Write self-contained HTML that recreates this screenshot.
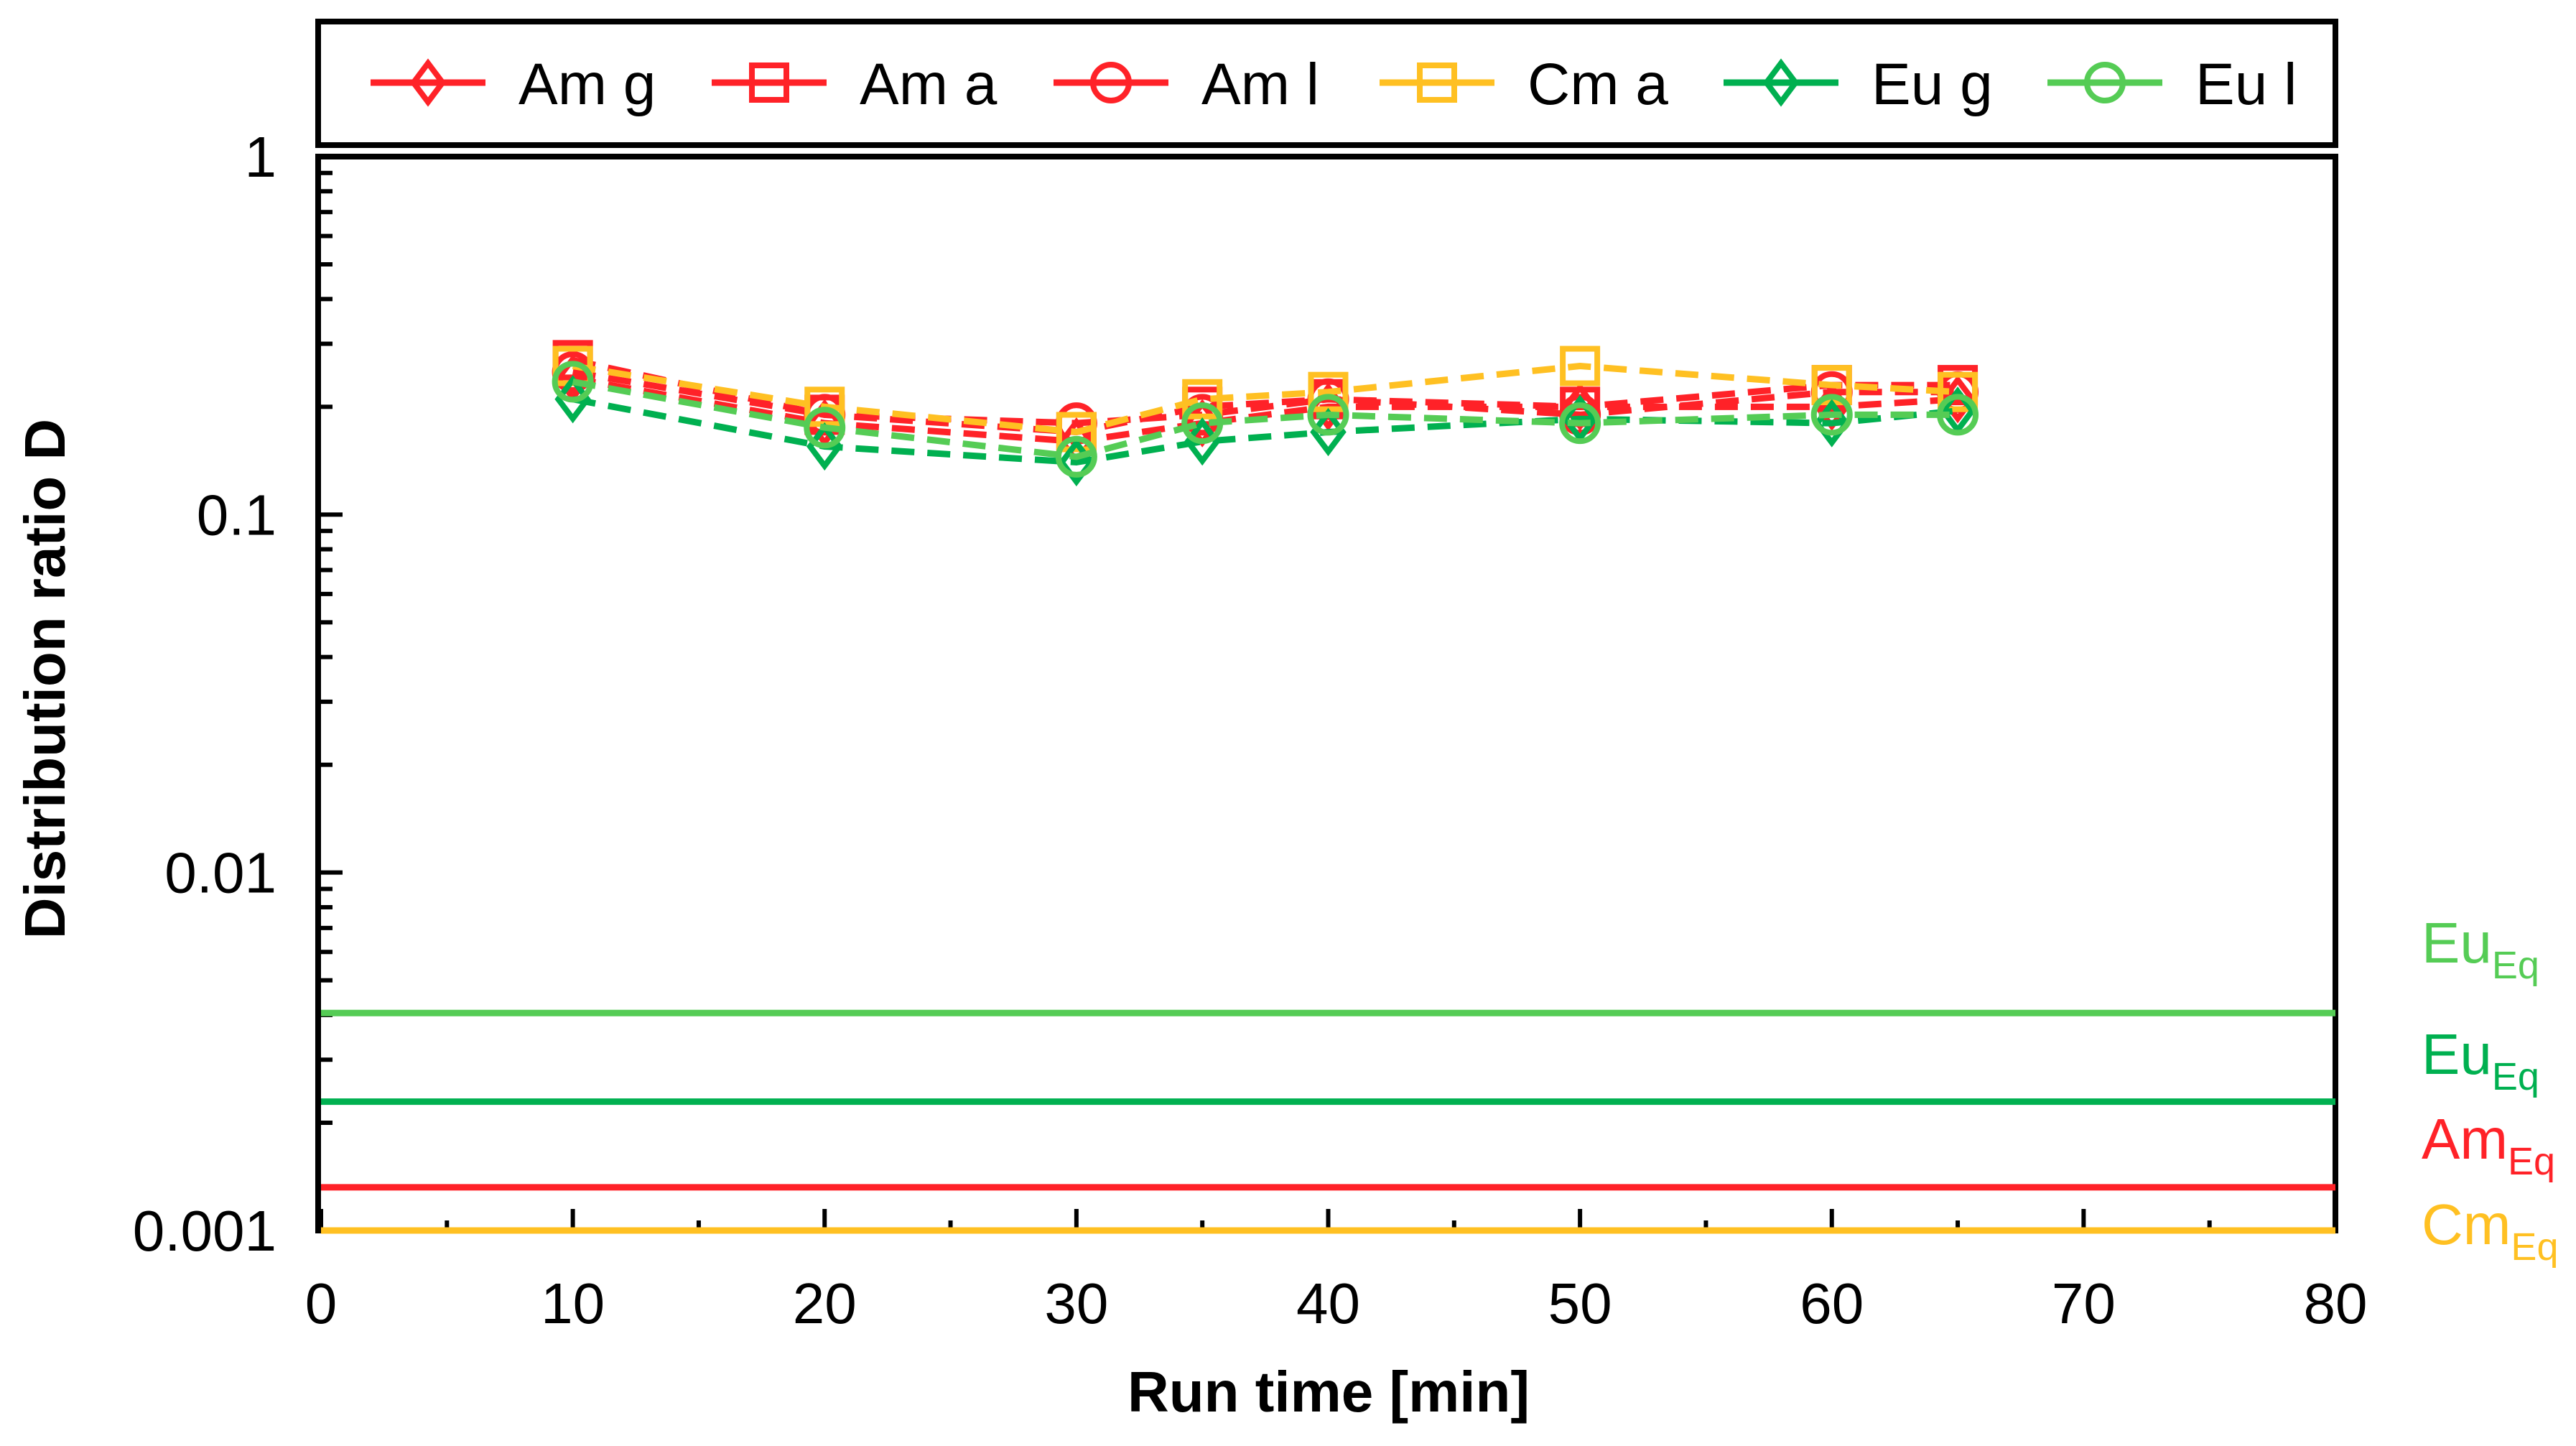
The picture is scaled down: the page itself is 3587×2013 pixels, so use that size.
<!DOCTYPE html>
<html><head><meta charset="utf-8"><style>
html,body{margin:0;padding:0;background:#fff}
svg{display:block;font-family:"Liberation Sans",Arial,sans-serif}
</style></head><body>
<svg id="chart" width="3587" height="2013" viewBox="0 0 3587 2013" xmlns="http://www.w3.org/2000/svg">
<g id="legend"></g>
<g id="plot"></g>
</svg>
<script>
const times = [10, 20, 30, 35, 40, 50, 60, 65];
const amG = [0.24, 0.18, 0.16, 0.18, 0.20, 0.20, 0.20, 0.21];
const amA = [0.27, 0.19, 0.17, 0.20, 0.21, 0.20, 0.23, 0.23];
const amL = [0.25, 0.19, 0.18, 0.19, 0.21, 0.19, 0.22, 0.22];
const cmA = [0.26, 0.20, 0.17, 0.21, 0.22, 0.26, 0.23, 0.22];
const euG = [0.21, 0.155, 0.14, 0.16, 0.17, 0.185, 0.18, 0.195];
const euL = [0.235, 0.175, 0.145, 0.18, 0.19, 0.18, 0.19, 0.19];
const eqLabels = ["Eu", "Eu", "Am", "Cm"];
const eqValues = [0.00405, 0.00229, 0.00132, 0.001];
const xTicks = [0, 10, 20, 30, 40, 50, 60, 70, 80];
const yTicks = [1, 0.1, 0.01, 0.001];
const yTickLabels = ["1", "0.1", "0.01", "0.001"];
const legendLabels = ["Am g", "Am a", "Am l", "Cm a", "Eu g", "Eu l"];

const RED = "#ff2228", YEL = "#ffc022", DKG = "#00b050", LTG = "#55cc55";
const L = 447, R = 3252, T = 218, B = 1713;
const xS = v => L + (v - 0) / 80 * (R - L);
const yS = v => B - (Math.log10(v) + 3) / 3 * (B - T);
const NS = "http://www.w3.org/2000/svg";
function mk(tag, attrs, parent) {
  const e = document.createElementNS(NS, tag);
  for (const k in attrs) e.setAttribute(k, attrs[k]);
  parent.appendChild(e);
  return e;
}
const plot = document.getElementById("plot");
const legend = document.getElementById("legend");

// frame
const fr = mk("rect", {x: L - 4, y: T, width: R - L + 4, height: B - T, fill: "none", stroke: "#000", "stroke-width": 8}, plot);



// y ticks
for (let d = -3; d < 0; d++) {
  for (let m = 2; m <= 9; m++) {
    const y = yS(m * Math.pow(10, d));
    mk("line", {x1: L, x2: L + 16, y1: y, y2: y, stroke: "#000", "stroke-width": 6}, plot);
  }
}
yTicks.forEach((v, i) => {
  const y = yS(v);
  mk("line", {x1: L, x2: L + 30, y1: y, y2: y, stroke: "#000", "stroke-width": 6}, plot);
  const t = mk("text", {x: L - 62, y: y + 28, "text-anchor": "end", "font-size": 80}, plot);
  
  
  t.textContent = yTickLabels[i];
});
// x ticks
xTicks.forEach(v => {
  const x = xS(v);
  mk("line", {x1: x, x2: x, y1: B, y2: B - 30, stroke: "#000", "stroke-width": 6}, plot);
  if (v < 80) mk("line", {x1: x + 5 / 80 * (R - L), x2: x + 5 / 80 * (R - L), y1: B, y2: B - 14, stroke: "#000", "stroke-width": 6}, plot);
  const t = mk("text", {x: x, y: 1842, "text-anchor": "middle", "font-size": 80}, plot);
  
  
  t.textContent = v;
});
const xt = mk("text", {x: 1850, y: 1965, "text-anchor": "middle", "font-size": 80, "font-weight": "bold"}, plot);


xt.textContent = "Run time [min]";
const yt = mk("text", {x: 0, y: 0, "text-anchor": "middle", "font-size": 80, "font-weight": "bold", transform: "translate(90,945) rotate(-90)"}, plot);


yt.textContent = "Distribution ratio D";

// eq lines (drawn over frame)
const eqColors = [LTG, DKG, RED, YEL];
eqValues.forEach((v, i) => {
  const ln = mk("line", {x1: L, x2: R, y1: yS(v), y2: yS(v), stroke: eqColors[i], "stroke-width": 9}, plot);
  
  
});
const eqLabelY = [1340, 1495, 1613, 1732];
eqLabels.forEach((s, i) => {
  const t = mk("text", {x: 3372, y: eqLabelY[i], fill: eqColors[i], "font-size": 80}, plot);
  
  
  t.textContent = s;
  const sub = mk("tspan", {"font-size": 54, dy: 22}, t);
  sub.textContent = "Eq";
});

function marker(shape, cx, cy, color, parent) {
  const s = 27;
  const a = {fill: "none", stroke: color, "stroke-width": 8};
  if (shape === "d") return mk("polygon", Object.assign({points: `${cx},${cy - s} ${cx + s * 0.75},${cy} ${cx},${cy + s} ${cx - s * 0.75},${cy}`}, a), parent);
  if (shape === "s") return mk("rect", Object.assign({x: cx - 24, y: cy - 24, width: 48, height: 48}, a), parent);
  return mk("circle", Object.assign({cx: cx, cy: cy, r: 25}, a), parent);
}
const series = [
  {name: "am-g", vals: amG, c: RED, m: "d"},
  {name: "am-a", vals: amA, c: RED, m: "s"},
  {name: "am-l", vals: amL, c: RED, m: "o"},
  {name: "cm-a", vals: cmA, c: YEL, m: "s"},
  {name: "eu-g", vals: euG, c: DKG, m: "d"},
  {name: "eu-l", vals: euL, c: LTG, m: "o"}
];
series.forEach(s => {
  const g = mk("g", {}, plot);
  
  
  const pts = s.vals.map((v, i) => xS(times[i]) + "," + yS(v)).join(" ");
  mk("polyline", {points: pts, fill: "none", stroke: s.c, "stroke-width": 9, "stroke-dasharray": "32 18"}, g);
  s.vals.forEach((v, i) => {
    const p = marker(s.m, xS(times[i]), yS(v), s.c, g);
    
    
  });
});

// legend
const lb = mk("rect", {x: 443, y: 30, width: 2809, height: 172, fill: "#fff", stroke: "#000", "stroke-width": 8}, legend);


const legX = [516, 991, 1467, 1921, 2400, 2851];
series.forEach((s, i) => {
  const g = mk("g", {}, legend);
  
  
  const x = legX[i], y = 115;
  mk("line", {x1: x, x2: x + 160, y1: y, y2: y, stroke: s.c, "stroke-width": 9}, g);
  marker(s.m, x + 80, y, s.c, g);
  const t = mk("text", {x: x + 206, y: y + 30, "font-size": 82}, g);
  t.textContent = legendLabels[i];
});
</script>
</body></html>
